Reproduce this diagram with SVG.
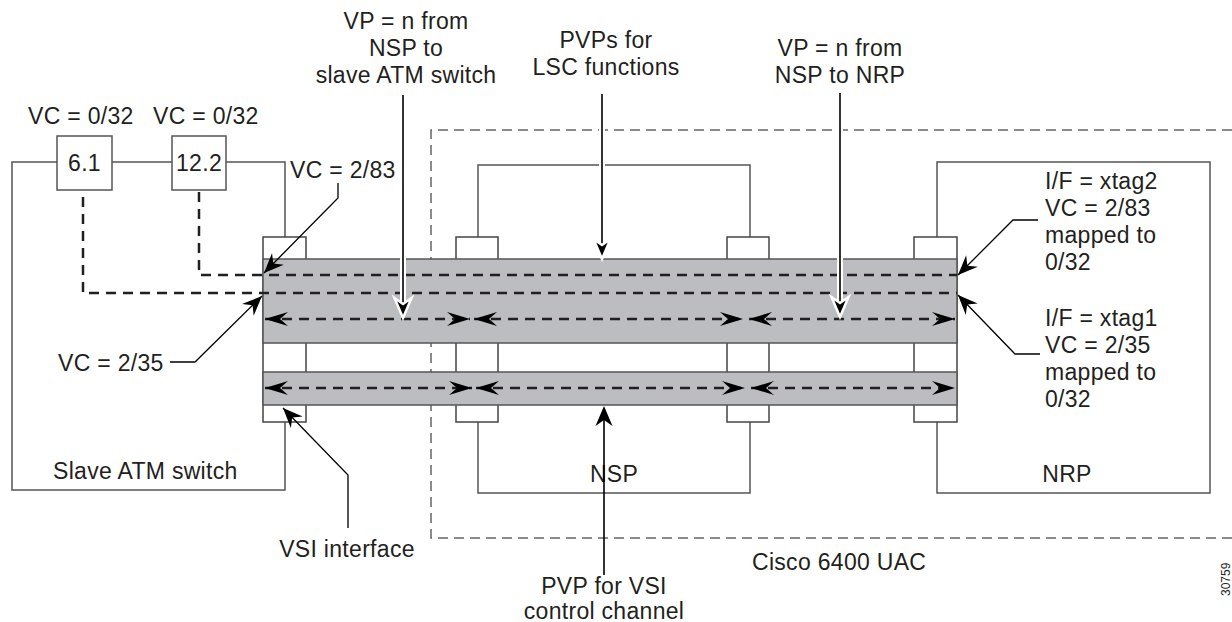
<svg xmlns="http://www.w3.org/2000/svg" width="1232" height="622" viewBox="0 0 1232 622">
<style>
text{font-family:"Liberation Sans",Arial,sans-serif;font-size:23px;fill:#231f20;letter-spacing:0.3px}
.mid{text-anchor:middle}
.box{fill:none;stroke:#555;stroke-width:1.5}
.wbox{fill:#fff;stroke:#555;stroke-width:1.5}
.port{fill:#fff;stroke:#444;stroke-width:1.5}
.band{fill:#bcbdc1;stroke:#555;stroke-width:1.5}
.bound{fill:none;stroke:#666;stroke-width:1.5;stroke-dasharray:10 6}
.dash{fill:none;stroke:#231f20;stroke-width:2.5;stroke-dasharray:10 7}
.lead{fill:none;stroke:#000;stroke-width:1.3}
.halo{fill:none;stroke:#fff;stroke-width:6}
.blk{fill:none;stroke:#000;stroke-width:1.6}
.ah{fill:#000}
.vh{fill:#000;stroke:#fff;stroke-width:2.5}
</style>
<defs>
<path id="ah" d="M0,0 L-23,-7 L-15,0 L-23,7 Z"/>
<path id="vh" d="M0,0 L-8.5,-20 L0,-14 L8.5,-20 Z"/>
<marker id="lm" markerUnits="userSpaceOnUse" markerWidth="22" markerHeight="20" viewBox="-19 -9 20 18" refX="0" refY="0" orient="auto">
<path d="M0,0 L-18,-7.5 L-12,0 L-18,7.5 Z" fill="#000"/>
</marker>
</defs>

<g id="cisco-6400-uac">
<path class="bound" d="M1232,130 H431 V538 H1232"/>
<text x="752" y="570">Cisco 6400 UAC</text>
</g>

<g id="slave-atm-switch">
<path class="box" d="M57,162 H12 V490 H285 V422 M112,162 H172 M226,162 H285 V237"/>
<rect class="port" x="263" y="237" width="43" height="185"/>
<text x="53" y="479">Slave ATM switch</text>
</g>

<g id="vc-6-1">
<rect class="wbox" x="57" y="136" width="55" height="54"/>
<text class="mid" x="84.5" y="171">6.1</text>
<text x="28" y="124">VC = 0/32</text>
</g>

<g id="vc-12-2">
<rect class="wbox" x="172" y="136" width="54" height="54"/>
<text class="mid" x="199" y="171">12.2</text>
<text x="153" y="124">VC = 0/32</text>
</g>

<g id="nsp">
<path class="box" d="M478,237 V165 H750 V237 M478,422 V493 H750 V422"/>
<rect class="port" x="456" y="237" width="42" height="185"/>
<rect class="port" x="727" y="237" width="42" height="185"/>
<text class="mid" x="614" y="482">NSP</text>
</g>

<g id="nrp">
<path class="box" d="M937,237 V162 H1210 V493 H937 V422"/>
<rect class="port" x="914" y="237" width="43" height="185"/>
<text class="mid" x="1067" y="482">NRP</text>
</g>

<g id="pvp-bands">
<rect class="band" x="263" y="259" width="694" height="84"/>
<rect class="band" x="263" y="372" width="694" height="33"/>
</g>

<g id="connectors">
<path class="dash" d="M83,197 V293 H957"/>
<path class="dash" d="M199,192 V275 H957"/>
<path class="dash" d="M265,319 H470 M474,319 H743 M749,319 H955"/>
<path class="dash" d="M265,388 H472 M476,388 H745 M751,388 H955"/>
<g class="ah">
<use href="#ah" transform="translate(265,319) rotate(180)"/>
<use href="#ah" transform="translate(470,319)"/>
<use href="#ah" transform="translate(474,319) rotate(180)"/>
<use href="#ah" transform="translate(743,319)"/>
<use href="#ah" transform="translate(749,319) rotate(180)"/>
<use href="#ah" transform="translate(955,319)"/>
<use href="#ah" transform="translate(265,388) rotate(180)"/>
<use href="#ah" transform="translate(472,388)"/>
<use href="#ah" transform="translate(476,388) rotate(180)"/>
<use href="#ah" transform="translate(745,388)"/>
<use href="#ah" transform="translate(751,388) rotate(180)"/>
<use href="#ah" transform="translate(955,388)"/>
</g>
<polyline class="lead" points="338,183 338,198 264,273" marker-end="url(#lm)"/>
<polyline class="lead" points="170,362 195,362 262,296" marker-end="url(#lm)"/>
<polyline class="lead" points="348,528 348,475 283,408" marker-end="url(#lm)"/>
<polyline class="lead" points="1038,220 1013,220 958,275" marker-end="url(#lm)"/>
<polyline class="lead" points="1040,354 1015,354 958,295" marker-end="url(#lm)"/>
<line class="blk" x1="604" y1="575" x2="604" y2="420"/>
<use href="#vh" class="ah" transform="translate(604,406) rotate(180)"/>
<line class="halo" x1="403" y1="95" x2="403" y2="305"/>
<line class="blk" x1="403" y1="95" x2="403" y2="305"/>
<use href="#vh" class="vh" transform="translate(403,318)"/>
<line class="halo" x1="602" y1="94" x2="602" y2="246"/>
<line class="blk" x1="602" y1="94" x2="602" y2="246"/>
<use href="#vh" class="vh" transform="translate(602,259)"/>
<line class="halo" x1="840" y1="93" x2="840" y2="304"/>
<line class="blk" x1="840" y1="93" x2="840" y2="304"/>
<use href="#vh" class="vh" transform="translate(840,317)"/>
</g>

<g id="labels">
<text class="mid" x="406" y="29">VP = n from</text>
<text class="mid" x="406" y="56">NSP to</text>
<text class="mid" x="406" y="83">slave ATM switch</text>
<text class="mid" x="606" y="48">PVPs for</text>
<text class="mid" x="606" y="75">LSC functions</text>
<text class="mid" x="840" y="56">VP = n from</text>
<text class="mid" x="840" y="83">NSP to NRP</text>
<text x="290" y="178">VC = 2/83</text>
<text x="58" y="371">VC = 2/35</text>
<text class="mid" x="347" y="557">VSI interface</text>
<text class="mid" x="604" y="594">PVP for VSI</text>
<text class="mid" x="604" y="619">control channel</text>
<text x="1045" y="189">I/F = xtag2</text>
<text x="1045" y="216">VC = 2/83</text>
<text x="1045" y="243">mapped to</text>
<text x="1045" y="270">0/32</text>
<text x="1045" y="326">I/F = xtag1</text>
<text x="1045" y="353">VC = 2/35</text>
<text x="1045" y="380">mapped to</text>
<text x="1045" y="407">0/32</text>
<text x="1230" y="596" transform="rotate(-90 1230 596)" style="font-size:12px;letter-spacing:0">30759</text>
</g>
</svg>
